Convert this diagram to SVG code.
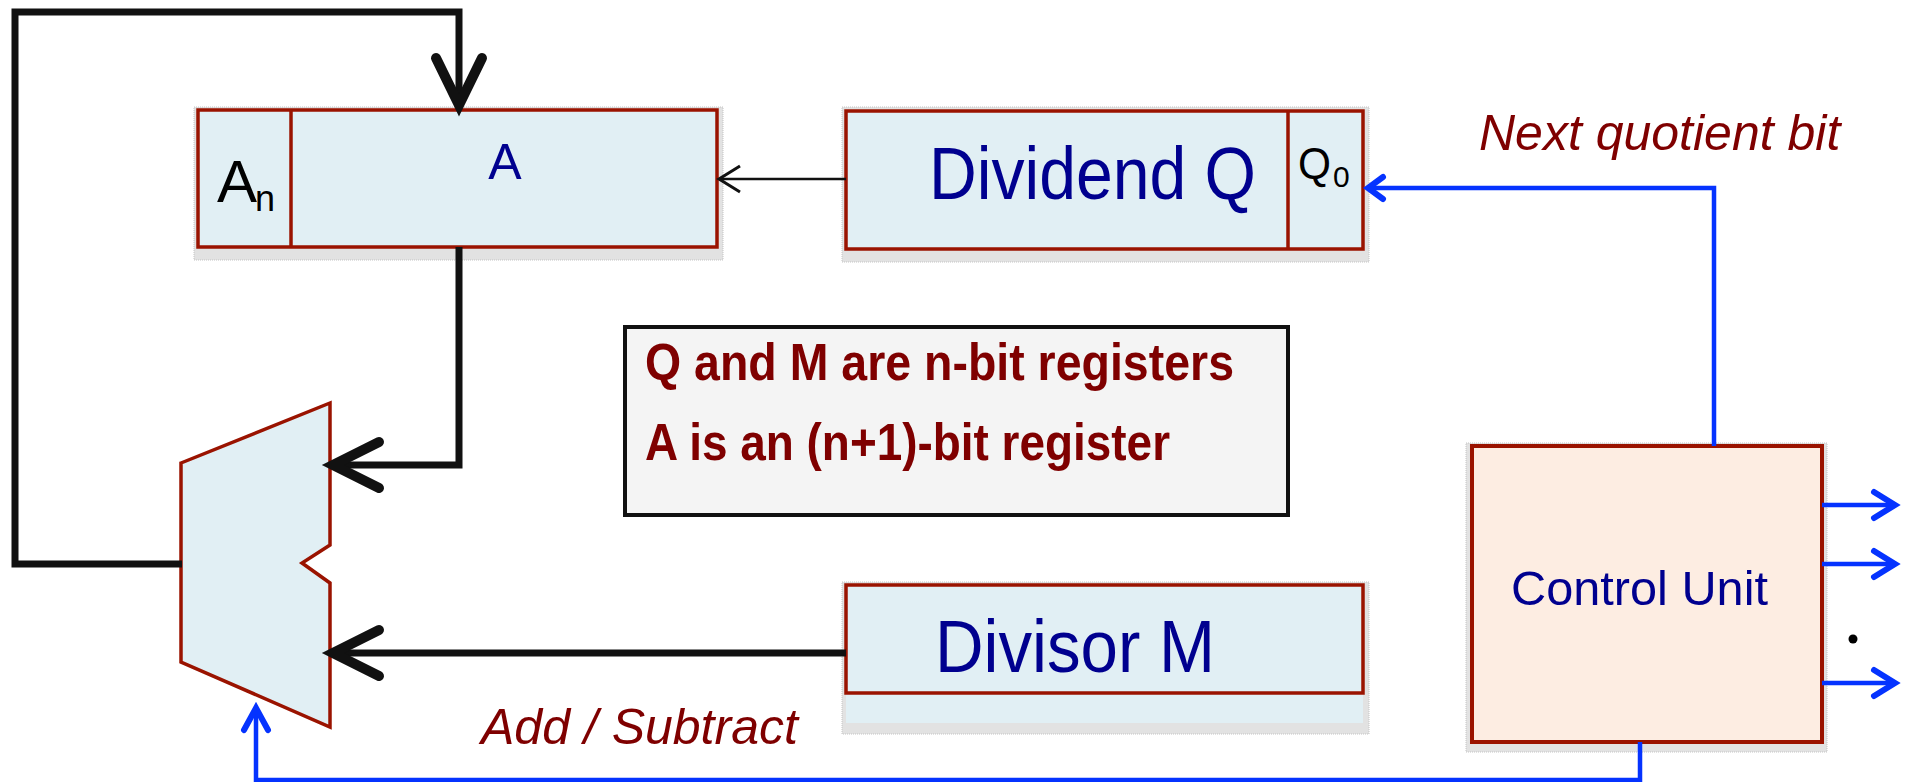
<svg xmlns="http://www.w3.org/2000/svg" width="1905" height="782" viewBox="0 0 1905 782">
<style>
.reg{fill:#E1EFF4;stroke:#9A1300;stroke-width:3.5}
.shadow{fill:#e2e2e2;stroke:#c4c4c4;stroke-width:1;stroke-dasharray:1 1}
.blk{fill:none;stroke:#111;stroke-width:7;stroke-linejoin:miter}
.head{fill:none;stroke:#111;stroke-width:10;stroke-linecap:round;stroke-linejoin:miter}
.blu{fill:none;stroke:#0533FF;stroke-width:4.5}
.bhead{fill:none;stroke:#0533FF;stroke-width:6;stroke-linecap:round}
.navy{font-family:"Liberation Sans",Arial,sans-serif;fill:#00008F}
.lbl{font-family:"Liberation Sans",Arial,sans-serif;fill:#7F0000;font-style:italic;font-size:50px}
.note{font-family:"Liberation Sans",Arial,sans-serif;fill:#7F0000;font-weight:bold;font-size:52px}
.blktxt{font-family:"Liberation Sans",Arial,sans-serif;fill:#000}
</style>
<rect width="1905" height="782" fill="#fff"/>

<g id="regA">
<rect class="shadow" x="194" y="107" width="529" height="153"/>
<rect class="reg" x="198" y="110" width="519" height="137"/>
<line x1="291" y1="110" x2="291" y2="247" stroke="#9A1300" stroke-width="3.5"/>
<text class="blktxt" x="217" y="202" font-size="60">A</text>
<text class="blktxt" x="255" y="211" font-size="36">n</text>
<text class="navy" x="505" y="179" font-size="50" text-anchor="middle">A</text>
</g>

<g id="regQ">
<rect class="shadow" x="842" y="107" width="527" height="155"/>
<rect class="reg" x="846" y="111" width="517" height="138"/>
<line x1="1288" y1="111" x2="1288" y2="249" stroke="#9A1300" stroke-width="3.5"/>
<text class="navy" x="929" y="199" font-size="75" textLength="327" lengthAdjust="spacingAndGlyphs">Dividend Q</text>
<text class="blktxt" x="1298" y="179" font-size="44" textLength="33" lengthAdjust="spacingAndGlyphs">Q</text>
<text class="blktxt" x="1333" y="187" font-size="30">0</text>
</g>

<g id="regM">
<rect class="shadow" x="842" y="582" width="527" height="152"/>
<rect x="846" y="693" width="517" height="30" fill="#E1EFF4"/>
<rect class="reg" x="846" y="585" width="517" height="108"/>
<text class="navy" x="935" y="672" font-size="75" textLength="280" lengthAdjust="spacingAndGlyphs">Divisor M</text>
</g>

<g id="alu">
<polygon points="181,463 330,403 330,545 302,563 330,583 330,727 181,662" fill="#E1EFF4" stroke="#9A1300" stroke-width="3.5"/>
</g>

<g id="control">
<rect class="shadow" x="1466" y="443" width="361" height="309"/>
<rect x="1472" y="446" width="350" height="296" fill="#FDEDE2" stroke="#9A1300" stroke-width="4"/>
<text class="navy" x="1511" y="605" font-size="49" textLength="257" lengthAdjust="spacingAndGlyphs">Control Unit</text>
</g>

<g id="note">
<rect x="625" y="327" width="663" height="188" fill="#F4F4F4" stroke="#111" stroke-width="4"/>
<text class="note" x="645" y="380" textLength="589" lengthAdjust="spacingAndGlyphs">Q and M are n-bit registers</text>
<text class="note" x="645" y="460" textLength="525" lengthAdjust="spacingAndGlyphs">A is an (n+1)-bit register</text>
</g>

<g id="connectors">
<!-- feedback ALU -> A -->
<polyline class="blk" points="182,564 15,564 15,12 459,12 459,104"/>
<polyline class="head" points="436,58 459,105 482,58"/>
<!-- A -> ALU -->
<polyline class="blk" points="459,247 459,465 336,465"/>
<polyline class="head" points="379,442 333,465 379,488"/>
<!-- M -> ALU -->
<line class="blk" x1="846" y1="653" x2="336" y2="653"/>
<polyline class="head" points="379,630 333,653 379,676"/>
<!-- Q -> A shift -->
<line x1="846" y1="179" x2="720" y2="179" stroke="#111" stroke-width="2.5"/>
<polyline points="740,166 719,179 740,192" fill="none" stroke="#111" stroke-width="3"/>
<!-- Control -> Q0 -->
<polyline class="blu" points="1714,446 1714,188 1370,188"/>
<polyline class="bhead" points="1383,177 1368,188 1383,199"/>
<!-- Control -> ALU add/sub -->
<polyline class="blu" points="1640,742 1640,780 256,780 256,710"/>
<polyline class="bhead" points="244,730 256,708 268,730"/>
<!-- control outputs -->
<line class="blu" x1="1822" y1="505" x2="1894" y2="505"/>
<polyline class="bhead" points="1874,492 1895,505 1874,518"/>
<line class="blu" x1="1822" y1="564" x2="1894" y2="564"/>
<polyline class="bhead" points="1874,551 1895,564 1874,577"/>
<line class="blu" x1="1822" y1="683" x2="1894" y2="683"/>
<polyline class="bhead" points="1874,670 1895,683 1874,696"/>
<circle cx="1853" cy="639" r="4.5" fill="#000"/>
</g>

<text class="lbl" x="1479" y="150">Next quotient bit</text>
<text class="lbl" x="481" y="744">Add / Subtract</text>
</svg>
